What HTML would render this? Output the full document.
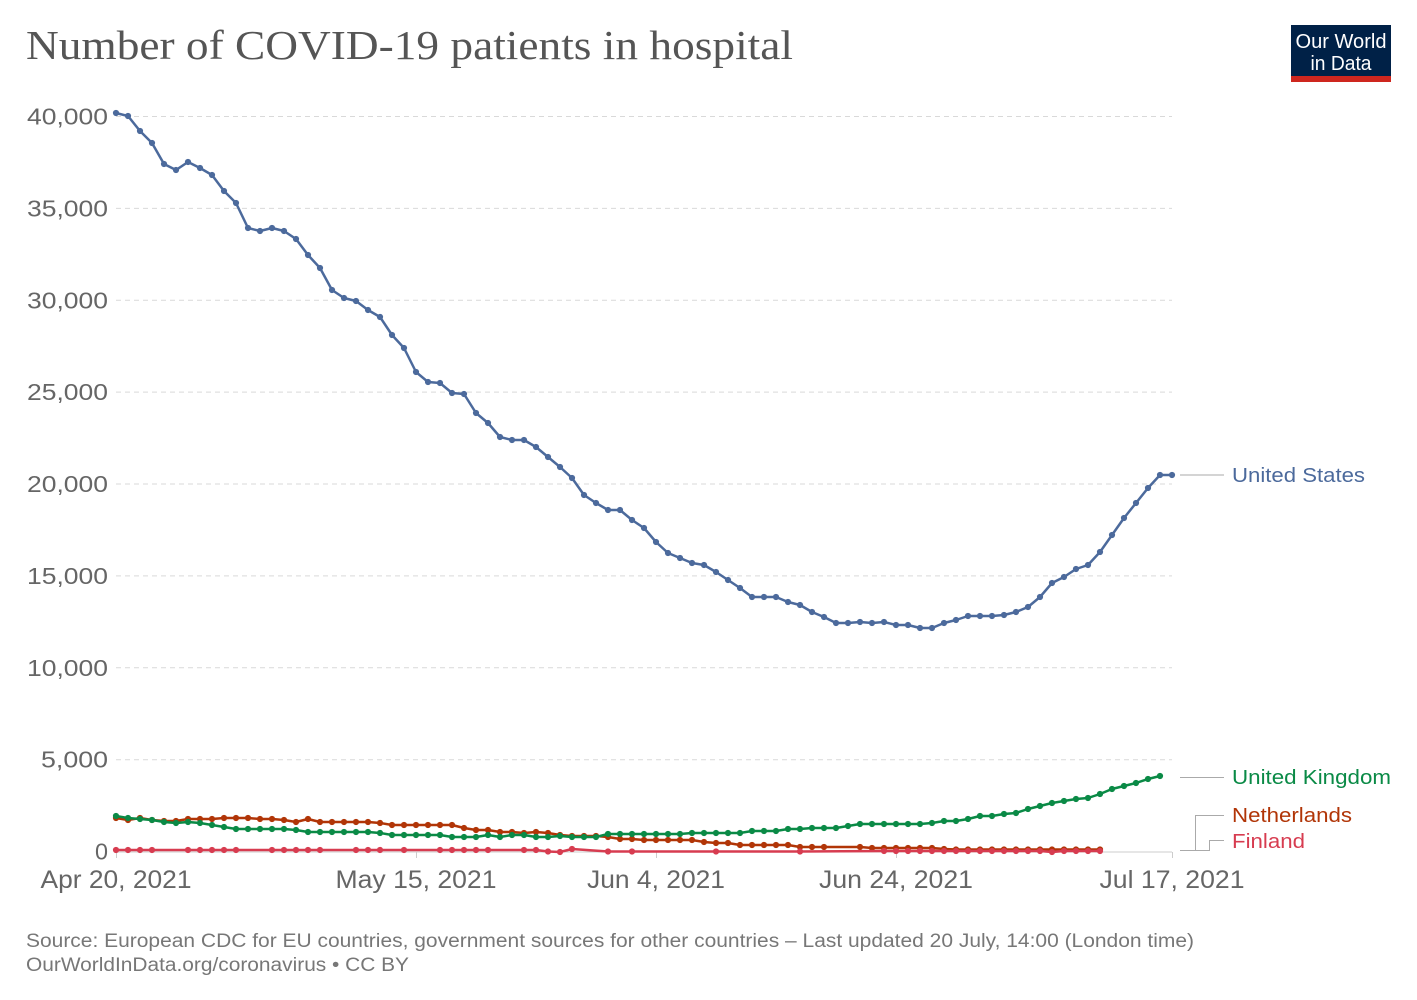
<!DOCTYPE html>
<html><head><meta charset="utf-8"><style>
html,body{margin:0;padding:0;background:#fff;}
svg{display:block;}
circle{r:3.1px;}
</style></head><body>
<svg width="1417" height="1000" viewBox="0 0 1417 1000" xmlns="http://www.w3.org/2000/svg">
<rect width="1417" height="1000" fill="#fff"/>
<text x="26" y="59" font-family="Liberation Serif, serif" font-size="41" fill="#555" textLength="767" lengthAdjust="spacingAndGlyphs">Number of COVID-19 patients in hospital</text>
<rect x="1291" y="25" width="100" height="52" fill="#002147"/>
<rect x="1291" y="76" width="100" height="6" fill="#ce261e"/>
<text x="1341" y="48" font-family="Liberation Sans, sans-serif" font-size="20" fill="#fff" text-anchor="middle" textLength="91" lengthAdjust="spacingAndGlyphs">Our World</text>
<text x="1341" y="70" font-family="Liberation Sans, sans-serif" font-size="20" fill="#fff" text-anchor="middle" textLength="61" lengthAdjust="spacingAndGlyphs">in Data</text>
<g stroke="#d9d9d9" stroke-width="1" stroke-dasharray="5,4">
<line x1="116" x2="1172" y1="116.5" y2="116.5"/>
<line x1="116" x2="1172" y1="208.4" y2="208.4"/>
<line x1="116" x2="1172" y1="300.3" y2="300.3"/>
<line x1="116" x2="1172" y1="392.1" y2="392.1"/>
<line x1="116" x2="1172" y1="484" y2="484"/>
<line x1="116" x2="1172" y1="575.9" y2="575.9"/>
<line x1="116" x2="1172" y1="667.8" y2="667.8"/>
<line x1="116" x2="1172" y1="759.7" y2="759.7"/>
</g>
<g stroke="#ccc" stroke-width="1">
<line x1="116" x2="1172" y1="852" y2="852"/>
<line x1="116.5" x2="116.5" y1="852" y2="858"/>
<line x1="416.5" x2="416.5" y1="852" y2="858"/>
<line x1="656.5" x2="656.5" y1="852" y2="858"/>
<line x1="896.5" x2="896.5" y1="852" y2="858"/>
<line x1="1172.5" x2="1172.5" y1="852" y2="858"/>
</g>
<g font-family="Liberation Sans, sans-serif" font-size="23" fill="#666" text-anchor="end">
<text x="108" y="124.5" textLength="81" lengthAdjust="spacingAndGlyphs">40,000</text>
<text x="108" y="216.4" textLength="81" lengthAdjust="spacingAndGlyphs">35,000</text>
<text x="108" y="308.3" textLength="81" lengthAdjust="spacingAndGlyphs">30,000</text>
<text x="108" y="400.1" textLength="81" lengthAdjust="spacingAndGlyphs">25,000</text>
<text x="108" y="492" textLength="81" lengthAdjust="spacingAndGlyphs">20,000</text>
<text x="108" y="583.9" textLength="81" lengthAdjust="spacingAndGlyphs">15,000</text>
<text x="108" y="675.8" textLength="81" lengthAdjust="spacingAndGlyphs">10,000</text>
<text x="108" y="767.7" textLength="67" lengthAdjust="spacingAndGlyphs">5,000</text>
<text x="108" y="859.6" textLength="13" lengthAdjust="spacingAndGlyphs">0</text>
</g>
<g font-family="Liberation Sans, sans-serif" font-size="25" fill="#666" text-anchor="middle">
<text x="116" y="888" textLength="151" lengthAdjust="spacingAndGlyphs">Apr 20, 2021</text>
<text x="416" y="888" textLength="161" lengthAdjust="spacingAndGlyphs">May 15, 2021</text>
<text x="656" y="888" textLength="138" lengthAdjust="spacingAndGlyphs">Jun 4, 2021</text>
<text x="896" y="888" textLength="154" lengthAdjust="spacingAndGlyphs">Jun 24, 2021</text>
<text x="1172" y="888" textLength="145" lengthAdjust="spacingAndGlyphs">Jul 17, 2021</text>
</g>
<g fill="none" stroke="#aaa" stroke-width="1">
<line x1="1180" x2="1224" y1="475" y2="475"/>
<line x1="1180" x2="1224" y1="777.5" y2="777.5"/>
<polyline points="1180,850.5 1195.5,850.5 1195.5,815.5 1224,815.5"/>
<polyline points="1180,850.5 1209.5,850.5 1209.5,840.5 1224,840.5"/>
</g>
<g font-family="Liberation Sans, sans-serif" font-size="20">
<text x="1232" y="482" fill="#4c6a9c" textLength="133" lengthAdjust="spacingAndGlyphs">United States</text>
<text x="1232" y="784" fill="#0a8a46" textLength="159" lengthAdjust="spacingAndGlyphs">United Kingdom</text>
<text x="1232" y="822" fill="#b13507" textLength="120" lengthAdjust="spacingAndGlyphs">Netherlands</text>
<text x="1232" y="848" fill="#d73c50" textLength="73" lengthAdjust="spacingAndGlyphs">Finland</text>
</g>

<!-- Netherlands -->
<g fill="#b13507">
<polyline fill="none" stroke="#b13507" stroke-width="2.5" stroke-linejoin="round" points="116,818 128,820 140,818 152,820 164,821 176,821 188,819 200,819 212,819 224,818 236,818 248,818 260,819 272,819 284,820 296,822 308,819 320,822 332,822 344,822 356,822 368,822 380,823 392,825 404,825 416,825 428,825 440,825 452,825 464,828 476,830 488,830 500,832 512,832 524,833 536,832 548,833 560,835 572,836 584,836 596,836 608,837 620,839 632,839 644,840 656,840 668,840 680,840 692,840 704,842 716,843 728,843 740,845 752,845 764,845 776,845 788,845 800,847 812,847 824,847 860,847 872,848 884,848 896,848 908,848 920,848 932,848 944,849 956,849.5 968,849.5 980,849.5 992,849.5 1004,849.5 1016,849.5 1028,849.5 1040,849.5 1052,849.5 1064,849.5 1076,849.5 1088,849.5 1100,849.5"/>
<circle cx="116" cy="818" r="3.1"/><circle cx="128" cy="820" r="3.1"/><circle cx="140" cy="818" r="3.1"/><circle cx="152" cy="820" r="3.1"/><circle cx="164" cy="821" r="3.1"/><circle cx="176" cy="821" r="3.1"/><circle cx="188" cy="819" r="3.1"/><circle cx="200" cy="819" r="3.1"/><circle cx="212" cy="819" r="3.1"/><circle cx="224" cy="818" r="3.1"/><circle cx="236" cy="818" r="3.1"/><circle cx="248" cy="818" r="3.1"/><circle cx="260" cy="819" r="3.1"/><circle cx="272" cy="819" r="3.1"/><circle cx="284" cy="820" r="3.1"/><circle cx="296" cy="822" r="3.1"/><circle cx="308" cy="819" r="3.1"/><circle cx="320" cy="822" r="3.1"/><circle cx="332" cy="822" r="3.1"/><circle cx="344" cy="822" r="3.1"/><circle cx="356" cy="822" r="3.1"/><circle cx="368" cy="822" r="3.1"/><circle cx="380" cy="823" r="3.1"/><circle cx="392" cy="825" r="3.1"/><circle cx="404" cy="825" r="3.1"/><circle cx="416" cy="825" r="3.1"/><circle cx="428" cy="825" r="3.1"/><circle cx="440" cy="825" r="3.1"/><circle cx="452" cy="825" r="3.1"/><circle cx="464" cy="828" r="3.1"/><circle cx="476" cy="830" r="3.1"/><circle cx="488" cy="830" r="3.1"/><circle cx="500" cy="832" r="3.1"/><circle cx="512" cy="832" r="3.1"/><circle cx="524" cy="833" r="3.1"/><circle cx="536" cy="832" r="3.1"/><circle cx="548" cy="833" r="3.1"/><circle cx="560" cy="835" r="3.1"/><circle cx="572" cy="836" r="3.1"/><circle cx="584" cy="836" r="3.1"/><circle cx="596" cy="836" r="3.1"/><circle cx="608" cy="837" r="3.1"/><circle cx="620" cy="839" r="3.1"/><circle cx="632" cy="839" r="3.1"/><circle cx="644" cy="840" r="3.1"/><circle cx="656" cy="840" r="3.1"/><circle cx="668" cy="840" r="3.1"/><circle cx="680" cy="840" r="3.1"/><circle cx="692" cy="840" r="3.1"/><circle cx="704" cy="842" r="3.1"/><circle cx="716" cy="843" r="3.1"/><circle cx="728" cy="843" r="3.1"/><circle cx="740" cy="845" r="3.1"/><circle cx="752" cy="845" r="3.1"/><circle cx="764" cy="845" r="3.1"/><circle cx="776" cy="845" r="3.1"/><circle cx="788" cy="845" r="3.1"/><circle cx="800" cy="847" r="3.1"/><circle cx="812" cy="847" r="3.1"/><circle cx="824" cy="847" r="3.1"/><circle cx="860" cy="847" r="3.1"/><circle cx="872" cy="848" r="3.1"/><circle cx="884" cy="848" r="3.1"/><circle cx="896" cy="848" r="3.1"/><circle cx="908" cy="848" r="3.1"/><circle cx="920" cy="848" r="3.1"/><circle cx="932" cy="848" r="3.1"/><circle cx="944" cy="849" r="3.1"/><circle cx="956" cy="849.5" r="3.1"/><circle cx="968" cy="849.5" r="3.1"/><circle cx="980" cy="849.5" r="3.1"/><circle cx="992" cy="849.5" r="3.1"/><circle cx="1004" cy="849.5" r="3.1"/><circle cx="1016" cy="849.5" r="3.1"/><circle cx="1028" cy="849.5" r="3.1"/><circle cx="1040" cy="849.5" r="3.1"/><circle cx="1052" cy="849.5" r="3.1"/><circle cx="1064" cy="849.5" r="3.1"/><circle cx="1076" cy="849.5" r="3.1"/><circle cx="1088" cy="849.5" r="3.1"/><circle cx="1100" cy="849.5" r="3.1"/>
</g>

<!-- Finland -->
<g fill="#d73c50">
<polyline fill="none" stroke="#d73c50" stroke-width="2.5" stroke-linejoin="round" points="116,850 128,850 140,850 152,850 188,850 200,850 212,850 224,850 236,850 272,850 284,850 296,850 308,850 320,850 356,850 368,850 380,850 404,850 440,850 452,850 464,850 476,850 488,850 524,850 536,850 548,851.5 560,852 572,849 608,851.5 632,851.5 716,851.5 800,851.5 884,851 896,851 908,851 920,851 932,851 944,851 956,851 968,851 980,851 992,851 1004,851 1016,851 1028,851 1040,851 1052,852 1064,851 1076,851 1088,851 1100,851"/>
<circle cx="116" cy="850" r="3.1"/><circle cx="128" cy="850" r="3.1"/><circle cx="140" cy="850" r="3.1"/><circle cx="152" cy="850" r="3.1"/><circle cx="188" cy="850" r="3.1"/><circle cx="200" cy="850" r="3.1"/><circle cx="212" cy="850" r="3.1"/><circle cx="224" cy="850" r="3.1"/><circle cx="236" cy="850" r="3.1"/><circle cx="272" cy="850" r="3.1"/><circle cx="284" cy="850" r="3.1"/><circle cx="296" cy="850" r="3.1"/><circle cx="308" cy="850" r="3.1"/><circle cx="320" cy="850" r="3.1"/><circle cx="356" cy="850" r="3.1"/><circle cx="368" cy="850" r="3.1"/><circle cx="380" cy="850" r="3.1"/><circle cx="404" cy="850" r="3.1"/><circle cx="440" cy="850" r="3.1"/><circle cx="452" cy="850" r="3.1"/><circle cx="464" cy="850" r="3.1"/><circle cx="476" cy="850" r="3.1"/><circle cx="488" cy="850" r="3.1"/><circle cx="524" cy="850" r="3.1"/><circle cx="536" cy="850" r="3.1"/><circle cx="548" cy="851.5" r="3.1"/><circle cx="560" cy="852" r="3.1"/><circle cx="572" cy="849" r="3.1"/><circle cx="608" cy="851.5" r="3.1"/><circle cx="632" cy="851.5" r="3.1"/><circle cx="716" cy="851.5" r="3.1"/><circle cx="800" cy="851.5" r="3.1"/><circle cx="884" cy="851" r="3.1"/><circle cx="896" cy="851" r="3.1"/><circle cx="908" cy="851" r="3.1"/><circle cx="920" cy="851" r="3.1"/><circle cx="932" cy="851" r="3.1"/><circle cx="944" cy="851" r="3.1"/><circle cx="956" cy="851" r="3.1"/><circle cx="968" cy="851" r="3.1"/><circle cx="980" cy="851" r="3.1"/><circle cx="992" cy="851" r="3.1"/><circle cx="1004" cy="851" r="3.1"/><circle cx="1016" cy="851" r="3.1"/><circle cx="1028" cy="851" r="3.1"/><circle cx="1040" cy="851" r="3.1"/><circle cx="1052" cy="852" r="3.1"/><circle cx="1064" cy="851" r="3.1"/><circle cx="1076" cy="851" r="3.1"/><circle cx="1088" cy="851" r="3.1"/><circle cx="1100" cy="851" r="3.1"/>
</g>

<!-- United Kingdom -->
<g fill="#0a8a46">
<polyline fill="none" stroke="#0a8a46" stroke-width="2.5" stroke-linejoin="round" points="116,816 128,818 140,819 152,820 164,822 176,823 188,822 200,823 212,825 224,827 236,829 248,829 260,829 272,829 284,829 296,830 308,832 320,832 332,832 344,832 356,832 368,832 380,833 392,835 404,835 416,835 428,835 440,835 452,837 464,837 476,837 488,835 500,837 512,835 524,835 536,837 548,837 560,836 572,837 584,837 596,837 608,834 620,834 632,834 644,834 656,834 668,834 680,834 692,833 704,833 716,833 728,833 740,833 752,831 764,831 776,831 788,829 800,829 812,828 824,828 836,828 848,826 860,824 872,824 884,824 896,824 908,824 920,824 932,823 944,821 956,821 968,819 980,816 992,816 1004,814 1016,813 1028,809 1040,806 1052,803 1064,801 1076,799 1088,798 1100,794 1112,789 1124,786 1136,783 1148,779 1160,776"/>
<circle cx="116" cy="816" r="3.1"/><circle cx="128" cy="818" r="3.1"/><circle cx="140" cy="819" r="3.1"/><circle cx="152" cy="820" r="3.1"/><circle cx="164" cy="822" r="3.1"/><circle cx="176" cy="823" r="3.1"/><circle cx="188" cy="822" r="3.1"/><circle cx="200" cy="823" r="3.1"/><circle cx="212" cy="825" r="3.1"/><circle cx="224" cy="827" r="3.1"/><circle cx="236" cy="829" r="3.1"/><circle cx="248" cy="829" r="3.1"/><circle cx="260" cy="829" r="3.1"/><circle cx="272" cy="829" r="3.1"/><circle cx="284" cy="829" r="3.1"/><circle cx="296" cy="830" r="3.1"/><circle cx="308" cy="832" r="3.1"/><circle cx="320" cy="832" r="3.1"/><circle cx="332" cy="832" r="3.1"/><circle cx="344" cy="832" r="3.1"/><circle cx="356" cy="832" r="3.1"/><circle cx="368" cy="832" r="3.1"/><circle cx="380" cy="833" r="3.1"/><circle cx="392" cy="835" r="3.1"/><circle cx="404" cy="835" r="3.1"/><circle cx="416" cy="835" r="3.1"/><circle cx="428" cy="835" r="3.1"/><circle cx="440" cy="835" r="3.1"/><circle cx="452" cy="837" r="3.1"/><circle cx="464" cy="837" r="3.1"/><circle cx="476" cy="837" r="3.1"/><circle cx="488" cy="835" r="3.1"/><circle cx="500" cy="837" r="3.1"/><circle cx="512" cy="835" r="3.1"/><circle cx="524" cy="835" r="3.1"/><circle cx="536" cy="837" r="3.1"/><circle cx="548" cy="837" r="3.1"/><circle cx="560" cy="836" r="3.1"/><circle cx="572" cy="837" r="3.1"/><circle cx="584" cy="837" r="3.1"/><circle cx="596" cy="837" r="3.1"/><circle cx="608" cy="834" r="3.1"/><circle cx="620" cy="834" r="3.1"/><circle cx="632" cy="834" r="3.1"/><circle cx="644" cy="834" r="3.1"/><circle cx="656" cy="834" r="3.1"/><circle cx="668" cy="834" r="3.1"/><circle cx="680" cy="834" r="3.1"/><circle cx="692" cy="833" r="3.1"/><circle cx="704" cy="833" r="3.1"/><circle cx="716" cy="833" r="3.1"/><circle cx="728" cy="833" r="3.1"/><circle cx="740" cy="833" r="3.1"/><circle cx="752" cy="831" r="3.1"/><circle cx="764" cy="831" r="3.1"/><circle cx="776" cy="831" r="3.1"/><circle cx="788" cy="829" r="3.1"/><circle cx="800" cy="829" r="3.1"/><circle cx="812" cy="828" r="3.1"/><circle cx="824" cy="828" r="3.1"/><circle cx="836" cy="828" r="3.1"/><circle cx="848" cy="826" r="3.1"/><circle cx="860" cy="824" r="3.1"/><circle cx="872" cy="824" r="3.1"/><circle cx="884" cy="824" r="3.1"/><circle cx="896" cy="824" r="3.1"/><circle cx="908" cy="824" r="3.1"/><circle cx="920" cy="824" r="3.1"/><circle cx="932" cy="823" r="3.1"/><circle cx="944" cy="821" r="3.1"/><circle cx="956" cy="821" r="3.1"/><circle cx="968" cy="819" r="3.1"/><circle cx="980" cy="816" r="3.1"/><circle cx="992" cy="816" r="3.1"/><circle cx="1004" cy="814" r="3.1"/><circle cx="1016" cy="813" r="3.1"/><circle cx="1028" cy="809" r="3.1"/><circle cx="1040" cy="806" r="3.1"/><circle cx="1052" cy="803" r="3.1"/><circle cx="1064" cy="801" r="3.1"/><circle cx="1076" cy="799" r="3.1"/><circle cx="1088" cy="798" r="3.1"/><circle cx="1100" cy="794" r="3.1"/><circle cx="1112" cy="789" r="3.1"/><circle cx="1124" cy="786" r="3.1"/><circle cx="1136" cy="783" r="3.1"/><circle cx="1148" cy="779" r="3.1"/><circle cx="1160" cy="776" r="3.1"/>
</g>

<!-- United States -->
<g fill="#4c6a9c">
<polyline fill="none" stroke="#4c6a9c" stroke-width="2.5" stroke-linejoin="round" points="116,113 128,116 140,131 152,143 164,164 176,170 188,162 200,168 212,175 224,191 236,203 248,228 260,231 272,228 284,231 296,239 308,255 320,268 332,290 344,298 356,301 368,310 380,317 392,335 404,348 416,372 428,382 440,383 452,393 464,394 476,413 488,423 500,437 512,440 524,440 536,447 548,457 560,467 572,478 584,495 596,503 608,510 620,510 632,520 644,528 656,542 668,553 680,558 692,563 704,565 716,572 728,580 740,588 752,597 764,597 776,597 788,602 800,605 812,612 824,617 836,623 848,623 860,622 872,623 884,622 896,625 908,625 920,628 932,628 944,623 956,620 968,616 980,616 992,616 1004,615 1016,612 1028,607 1040,597 1052,583 1064,577 1076,569 1088,565 1100,552 1112,535 1124,518 1136,503 1148,488 1160,475 1172,475"/>
<circle cx="116" cy="113" r="3.1"/><circle cx="128" cy="116" r="3.1"/><circle cx="140" cy="131" r="3.1"/><circle cx="152" cy="143" r="3.1"/><circle cx="164" cy="164" r="3.1"/><circle cx="176" cy="170" r="3.1"/><circle cx="188" cy="162" r="3.1"/><circle cx="200" cy="168" r="3.1"/><circle cx="212" cy="175" r="3.1"/><circle cx="224" cy="191" r="3.1"/><circle cx="236" cy="203" r="3.1"/><circle cx="248" cy="228" r="3.1"/><circle cx="260" cy="231" r="3.1"/><circle cx="272" cy="228" r="3.1"/><circle cx="284" cy="231" r="3.1"/><circle cx="296" cy="239" r="3.1"/><circle cx="308" cy="255" r="3.1"/><circle cx="320" cy="268" r="3.1"/><circle cx="332" cy="290" r="3.1"/><circle cx="344" cy="298" r="3.1"/><circle cx="356" cy="301" r="3.1"/><circle cx="368" cy="310" r="3.1"/><circle cx="380" cy="317" r="3.1"/><circle cx="392" cy="335" r="3.1"/><circle cx="404" cy="348" r="3.1"/><circle cx="416" cy="372" r="3.1"/><circle cx="428" cy="382" r="3.1"/><circle cx="440" cy="383" r="3.1"/><circle cx="452" cy="393" r="3.1"/><circle cx="464" cy="394" r="3.1"/><circle cx="476" cy="413" r="3.1"/><circle cx="488" cy="423" r="3.1"/><circle cx="500" cy="437" r="3.1"/><circle cx="512" cy="440" r="3.1"/><circle cx="524" cy="440" r="3.1"/><circle cx="536" cy="447" r="3.1"/><circle cx="548" cy="457" r="3.1"/><circle cx="560" cy="467" r="3.1"/><circle cx="572" cy="478" r="3.1"/><circle cx="584" cy="495" r="3.1"/><circle cx="596" cy="503" r="3.1"/><circle cx="608" cy="510" r="3.1"/><circle cx="620" cy="510" r="3.1"/><circle cx="632" cy="520" r="3.1"/><circle cx="644" cy="528" r="3.1"/><circle cx="656" cy="542" r="3.1"/><circle cx="668" cy="553" r="3.1"/><circle cx="680" cy="558" r="3.1"/><circle cx="692" cy="563" r="3.1"/><circle cx="704" cy="565" r="3.1"/><circle cx="716" cy="572" r="3.1"/><circle cx="728" cy="580" r="3.1"/><circle cx="740" cy="588" r="3.1"/><circle cx="752" cy="597" r="3.1"/><circle cx="764" cy="597" r="3.1"/><circle cx="776" cy="597" r="3.1"/><circle cx="788" cy="602" r="3.1"/><circle cx="800" cy="605" r="3.1"/><circle cx="812" cy="612" r="3.1"/><circle cx="824" cy="617" r="3.1"/><circle cx="836" cy="623" r="3.1"/><circle cx="848" cy="623" r="3.1"/><circle cx="860" cy="622" r="3.1"/><circle cx="872" cy="623" r="3.1"/><circle cx="884" cy="622" r="3.1"/><circle cx="896" cy="625" r="3.1"/><circle cx="908" cy="625" r="3.1"/><circle cx="920" cy="628" r="3.1"/><circle cx="932" cy="628" r="3.1"/><circle cx="944" cy="623" r="3.1"/><circle cx="956" cy="620" r="3.1"/><circle cx="968" cy="616" r="3.1"/><circle cx="980" cy="616" r="3.1"/><circle cx="992" cy="616" r="3.1"/><circle cx="1004" cy="615" r="3.1"/><circle cx="1016" cy="612" r="3.1"/><circle cx="1028" cy="607" r="3.1"/><circle cx="1040" cy="597" r="3.1"/><circle cx="1052" cy="583" r="3.1"/><circle cx="1064" cy="577" r="3.1"/><circle cx="1076" cy="569" r="3.1"/><circle cx="1088" cy="565" r="3.1"/><circle cx="1100" cy="552" r="3.1"/><circle cx="1112" cy="535" r="3.1"/><circle cx="1124" cy="518" r="3.1"/><circle cx="1136" cy="503" r="3.1"/><circle cx="1148" cy="488" r="3.1"/><circle cx="1160" cy="475" r="3.1"/><circle cx="1172" cy="475" r="3.1"/>
</g>

<g font-family="Liberation Sans, sans-serif" font-size="19" fill="#777">
<text x="26" y="947" textLength="1168" lengthAdjust="spacingAndGlyphs">Source: European CDC for EU countries, government sources for other countries – Last updated 20 July, 14:00 (London time)</text>
<text x="26" y="971" textLength="383" lengthAdjust="spacingAndGlyphs">OurWorldInData.org/coronavirus • CC BY</text>
</g>
</svg>
</body></html>
